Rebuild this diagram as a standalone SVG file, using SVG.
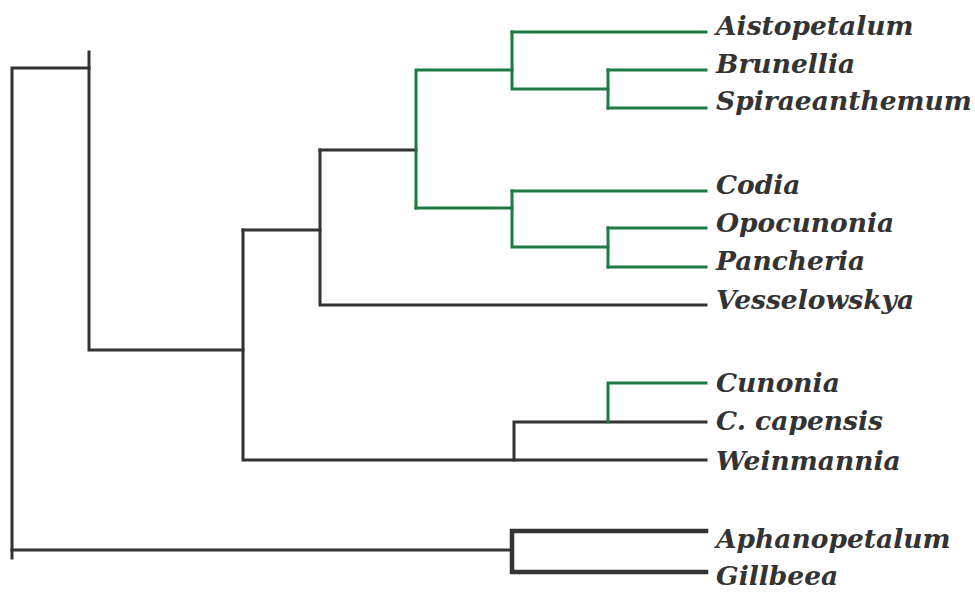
<svg xmlns="http://www.w3.org/2000/svg" width="975" height="592" viewBox="0 0 975 592">
  <style>
    .k { fill: none; stroke: #333333; stroke-width: 3; stroke-linecap: square; stroke-linejoin: miter; }
    .g { fill: none; stroke: #1f7a45; stroke-width: 3; stroke-linecap: square; stroke-linejoin: miter; }
    .kb { fill: none; stroke: #333333; stroke-width: 4.5; stroke-linecap: square; stroke-linejoin: miter; }
    .lbl { font-family: "DejaVu Serif", "Liberation Serif", serif; font-style: italic; font-weight: bold; font-size: 26.5px; fill: #333333; }
  </style>
  <rect width="975" height="592" fill="#ffffff"/>

  <!-- tree branches -->
  <g id="connectors">
    <!-- backbone (black) -->
    <path class="k" d="M12,558 V68 H89"/>
    <path class="k" d="M89,52 V350 H243"/>
    <path class="k" d="M243,230 V460 H706"/>
    <path class="k" d="M243,230 H320"/>
    <path class="k" d="M320,150 V305 H706"/>
    <path class="k" d="M320,150 H416"/>
    <!-- Weinmannia / Cunonia clade -->
    <path class="k" d="M514,460 V422 H706"/>
    <path class="g" d="M608,422 V383 H706"/>
    <!-- outgroup -->
    <path class="k" d="M12,550 H512"/>
    <path class="kb" d="M706,531 H512 V572 H706"/>
    <!-- green clade -->
    <path class="g" d="M416,208 V70 H512"/>
    <path class="g" d="M512,32 V89 H608"/>
    <path class="g" d="M512,32 H706"/>
    <path class="g" d="M608,70 V108"/>
    <path class="g" d="M608,70 H706"/>
    <path class="g" d="M608,108 H706"/>
    <path class="g" d="M416,208 H512"/>
    <path class="g" d="M512,191 V247 H608"/>
    <path class="g" d="M512,191 H706"/>
    <path class="g" d="M608,228 V267"/>
    <path class="g" d="M608,228 H706"/>
    <path class="g" d="M608,267 H706"/>
  </g>

  <!-- taxa -->
  <g id="aistopetalum"><text class="lbl" x="716" y="35">Aistopetalum</text></g>
  <g id="brunellia"><text class="lbl" x="716" y="73">Brunellia</text></g>
  <g id="spiraeanthemum"><text class="lbl" x="716" y="110">Spiraeanthemum</text></g>
  <g id="codia"><text class="lbl" x="716" y="194">Codia</text></g>
  <g id="opocunonia"><text class="lbl" x="716" y="232">Opocunonia</text></g>
  <g id="pancheria"><text class="lbl" x="716" y="270">Pancheria</text></g>
  <g id="vesselowskya"><text class="lbl" x="716" y="309">Vesselowskya</text></g>
  <g id="cunonia"><text class="lbl" x="716" y="392">Cunonia</text></g>
  <g id="c-capensis"><text class="lbl" x="716" y="430">C. capensis</text></g>
  <g id="weinmannia"><text class="lbl" x="716" y="470">Weinmannia</text></g>
  <g id="aphanopetalum"><text class="lbl" x="716" y="548">Aphanopetalum</text></g>
  <g id="gillbeea"><text class="lbl" x="716" y="585">Gillbeea</text></g>
</svg>
